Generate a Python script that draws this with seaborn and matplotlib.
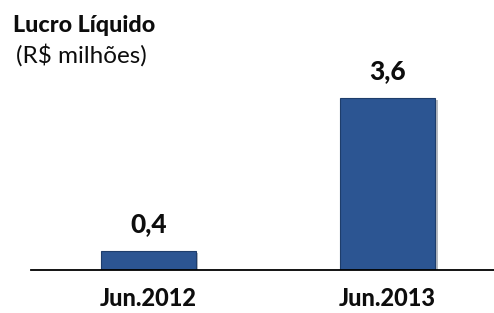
import matplotlib
matplotlib.use("Agg")
import matplotlib.pyplot as plt
import seaborn as sns
import pandas as pd
from matplotlib import patheffects as pe

categories = ["Jun.2012", "Jun.2013"]
values = [0.4, 3.6]
value_labels = ["0,4", "3,6"]
title = "Lucro Líquido"
subtitle = "(R$ milhões)"

sns.set_theme(style="white")
plt.rcParams['font.family'] = ['Lato', 'DejaVu Sans']

W, H = 494, 313
PX_PER_UNIT = 47.8
df = pd.DataFrame({"cat": categories, "val": values})

fig = plt.figure(figsize=(W / 100, H / 100), dpi=100)
ax = fig.add_axes([31 / W, (H - 270) / H, 463 / W, 210 / H])
sns.barplot(data=df, x="cat", y="val", color="#2C5592", width=0.401,
            edgecolor="#1E3D6B", linewidth=0.8, saturation=1, ax=ax)
for p in ax.patches:
    p.set_path_effects([pe.SimplePatchShadow(offset=(1.5, -1.5), alpha=0.3), pe.Normal()])

ax.set_xlim(-0.4916, 1.4456)
ax.set_ylim(0, 210 / PX_PER_UNIT)

val_texts = []
for i, (v, lab) in enumerate(zip(values, value_labels)):
    t = ax.annotate(lab, (i, v), xytext=(0, 18.5 * 0.72), textcoords="offset points",
                    ha="center", va="baseline", fontsize=17, fontweight="black", color="#0d0d0d")
    val_texts.append(t)

for s in ["top", "right", "left"]:
    ax.spines[s].set_visible(False)
ax.spines["bottom"].set_color("black")
ax.spines["bottom"].set_linewidth(1.3)
ax.set_yticks([])
ax.set_xlabel("")
ax.set_ylabel("")
ax.tick_params(axis="x", length=0, pad=36 * 0.72, labelsize=17)
for t in ax.get_xticklabels():
    t.set_fontweight("black")
    t.set_color("#0d0d0d")
    t.set_verticalalignment("baseline")

t_title = fig.text(13 / W, 1 - 32 / H, title, fontsize=15, fontweight="black",
                   ha="left", va="baseline", color="#0d0d0d")
t_sub = fig.text(16 / W, 1 - 63 / H, subtitle, fontsize=15,
                 ha="left", va="baseline", color="#0d0d0d")

# scale font sizes so that text widths match the reference layout
fig.canvas.draw()
r = fig.canvas.get_renderer()

def fit(t, target):
    w = t.get_window_extent(r).width
    t.set_fontsize(t.get_fontsize() * target / w)

fit(t_title, 143)
fit(t_sub, 131)
for t in val_texts:
    fit(t, 36.5)
lbl = ax.get_xticklabels()[0]
size = lbl.get_fontsize() * 97 / lbl.get_window_extent(r).width
ax.tick_params(axis="x", labelsize=size)

fig.savefig("out.png", dpi=100)
